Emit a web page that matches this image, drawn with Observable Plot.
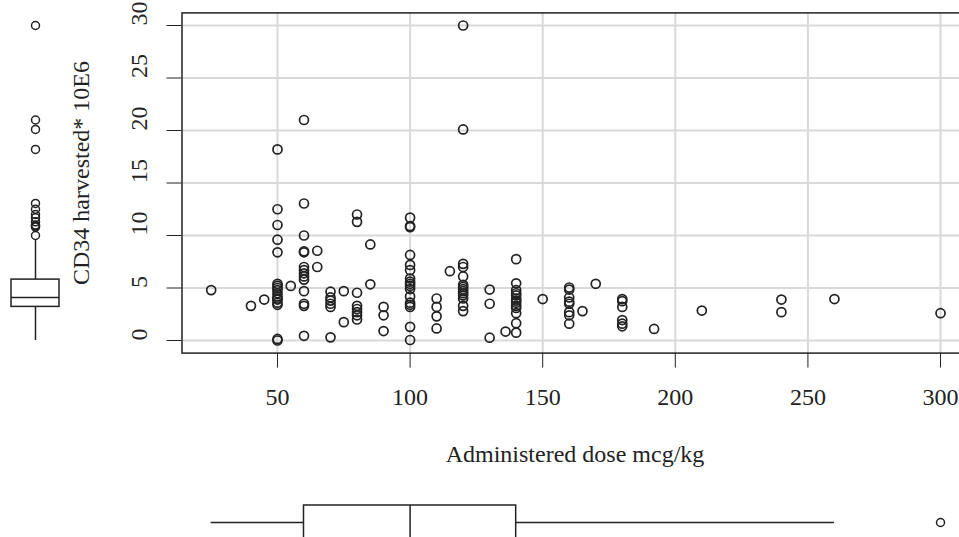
<!DOCTYPE html>
<html><head><meta charset="utf-8">
<script src="https://cdn.jsdelivr.net/npm/d3@7"></script>
<script src="https://cdn.jsdelivr.net/npm/@observablehq/plot@0.6"></script>
<style>
html,body{margin:0;padding:0;background:#fff;overflow:hidden}
#wrap{position:relative;width:959px;height:537px;overflow:hidden;background:#fff;font-family:"Liberation Serif","Times New Roman",serif;color:#222}
.ttl{position:absolute;white-space:nowrap;line-height:1;font-size:24px}
</style></head>
<body><div id="wrap"></div>
<script>
// ---- data ----
const dose = [
  25, 40, 45,
  50,50,50,50,50,50,50,50,50,50,50,50,50,50,50,50,50,
  55,
  60,60,60,60,60,60,60,60,60,60,60,60,60,60,
  65,65,
  70,70,70,70,70,70,
  75,75,
  80,80,80,80,80,80,80,80,
  85,85,
  90,90,90,
  100,100,100,100,100,100,100,100,100,100,100,100,100,100,100,100,100,
  110,110,110,110,
  115,
  120,120,120,120,120,120,120,120,120,120,120,120,120,120,
  130,130,130,
  136,
  140,140,140,140,140,140,140,140,140,140,140,140,140,
  150,
  160,160,160,160,160,160,160,160,
  165, 170,
  180,180,180,180,180,180,
  192, 210, 240, 240, 260, 300
];
const cd34 = [
  4.8, 3.3, 3.9,
  18.2, 12.5, 11.0, 9.6, 8.4, 5.4, 5.2, 5.0, 4.8, 4.5, 4.2, 4.0, 3.9, 3.6, 3.4, 0.15, 0.0,
  5.2,
  21.0, 13.05, 10.0, 8.5, 8.4, 7.0, 6.7, 6.4, 6.1, 5.8, 4.7, 3.5, 3.3, 0.45,
  8.55, 7.0,
  4.65, 4.1, 3.8, 3.5, 3.2, 0.3,
  4.7, 1.75,
  12.0, 11.3, 4.55, 3.3, 3.0, 2.7, 2.4, 2.0,
  9.15, 5.35,
  3.2, 2.4, 0.9,
  11.7, 10.9, 10.8, 8.15, 7.2, 6.7, 5.9, 5.6, 5.4, 5.2, 4.9, 4.2, 3.6, 3.4, 3.2, 1.3, 0.05,
  4.0, 3.2, 2.3, 1.15,
  6.6,
  30.0, 20.1, 7.3, 7.0, 6.1, 5.3, 5.1, 4.9, 4.7, 4.5, 4.3, 4.0, 3.3, 2.8,
  4.85, 3.5, 0.27,
  0.85,
  7.75, 5.45, 4.8, 4.5, 4.3, 4.0, 3.8, 3.6, 3.3, 3.1, 2.6, 1.65, 0.75,
  3.95,
  5.05, 4.85, 4.1, 3.7, 3.5, 2.7, 2.4, 1.6,
  2.8, 5.4,
  3.95, 3.75, 3.2, 1.95, 1.6, 1.35,
  1.1, 2.85, 3.9, 2.7, 3.95, 2.6
];
const xTicks = [50, 100, 150, 200, 250, 300];
const yTicks = [0, 5, 10, 15, 20, 25, 30];
const xLabel = "Administered dose mcg/kg";
const yLabel = "CD34 harvested* 10E6";

// ---- derived ----
const points = dose.map((d, i) => ({dose: d, cd34: cd34[i]}));
function boxStats(values) {
  const s = values.slice().sort(d3.ascending);
  const n = s.length;
  const n4 = Math.floor((n + 3) / 2) / 2;
  const idx = [1, n4, (n + 1) / 2, n + 1 - n4, n];
  const f = idx.map(d => 0.5 * (s[Math.floor(d) - 1] + s[Math.ceil(d) - 1]));
  const iqr = f[3] - f[1];
  const lo = d3.min(s.filter(v => v >= f[1] - 1.5 * iqr));
  const hi = d3.max(s.filter(v => v <= f[3] + 1.5 * iqr));
  return {q1: f[1], med: f[2], q3: f[3], lo, hi, out: s.filter(v => v < lo || v > hi)};
}
const xs = boxStats(dose), ys = boxStats(cd34);
const xDomain = [14, 311], yDomain = [-1.2, 31.2];
const ink = "#222";
const font = {fontFamily: '"Liberation Serif","Times New Roman",serif', fontSize: "24px", color: ink, background: "transparent", overflow: "visible", maxWidth: "none"};
const wrap = document.getElementById("wrap");
function place(el, left, top) { el.style.position = "absolute"; el.style.left = left + "px"; el.style.top = top + "px"; el.style.maxWidth = "none"; wrap.appendChild(el); }

// main scatter
const main = Plot.plot({
  width: 971, height: 400,
  marginLeft: 181.5, marginRight: 1.8, marginTop: 12.4, marginBottom: 47.4,
  style: font,
  x: {domain: xDomain, ticks: xTicks, tickSize: 15, tickPadding: 20, label: null},
  y: {domain: yDomain, ticks: yTicks, tickSize: 15, tickFormat: () => "", label: null},
  marks: [
    Plot.ruleX(xTicks, {stroke: "#d9d9d9", strokeWidth: 2}),
    Plot.ruleY(yTicks, {stroke: "#d9d9d9", strokeWidth: 2}),
    Plot.dot(points, {x: "dose", y: "cd34", r: 4.5, stroke: ink, strokeWidth: 1.7, fill: "none"}),
    Plot.frame({stroke: ink, strokeWidth: 1.5}),
    Plot.text(yTicks, {y: d => d, text: d => String(d), frameAnchor: "left", dx: -42.5, rotate: -90, fill: ink})
  ]
});
place(main, 0, 0);

// left boxplot (y)
const left = Plot.plot({
  width: 70, height: 400,
  marginLeft: 11, marginRight: 11, marginTop: 12.4, marginBottom: 47.4,
  style: font,
  x: {domain: [0, 1], axis: null},
  y: {domain: yDomain, axis: null},
  marks: [
    Plot.ruleX([0.5], {y1: ys.lo, y2: ys.q1, stroke: ink, strokeWidth: 1.5}),
    Plot.ruleX([0.5], {y1: ys.q3, y2: ys.hi, stroke: ink, strokeWidth: 1.5}),
    Plot.rect([ys], {x1: 0, x2: 1, y1: "q1", y2: "q3", fill: "white", stroke: ink, strokeWidth: 1.5}),
    Plot.ruleY([ys.med], {x1: 0, x2: 1, stroke: ink, strokeWidth: 1.5}),
    Plot.dot(ys.out, {x: 0.5, y: d => d, r: 4, stroke: ink, strokeWidth: 1.5, fill: "none"})
  ]
});
place(left, 0, 0);

// bottom boxplot (x)
const bottom = Plot.plot({
  width: 971, height: 80,
  marginLeft: 181.5, marginRight: 1.8, marginTop: 45, marginBottom: 1,
  style: font,
  x: {domain: xDomain, axis: null},
  y: {domain: [0, 1], axis: null},
  marks: [
    Plot.ruleY([0.5], {x1: xs.lo, x2: xs.q1, stroke: ink, strokeWidth: 1.5}),
    Plot.ruleY([0.5], {x1: xs.q3, x2: xs.hi, stroke: ink, strokeWidth: 1.5}),
    Plot.rect([xs], {x1: "q1", x2: "q3", y1: 0, y2: 1, fill: "white", stroke: ink, strokeWidth: 1.5}),
    Plot.ruleX([xs.med], {y1: 0, y2: 1, stroke: ink, strokeWidth: 1.5}),
    Plot.dot(xs.out, {x: d => d, y: 0.5, r: 4, stroke: ink, strokeWidth: 1.5, fill: "none"})
  ]
});
place(bottom, 0, 460);

// axis titles
const xt = document.createElement("div");
xt.className = "ttl"; xt.textContent = xLabel;
xt.style.left = "575px"; xt.style.top = "454px"; xt.style.transform = "translate(-50%,-50%)";
wrap.appendChild(xt);
const yt = document.createElement("div");
yt.className = "ttl"; yt.textContent = yLabel;
yt.style.left = "81px"; yt.style.top = "173px"; yt.style.transform = "translate(-50%,-50%) rotate(-90deg)";
wrap.appendChild(yt);
</script>
</body></html>
